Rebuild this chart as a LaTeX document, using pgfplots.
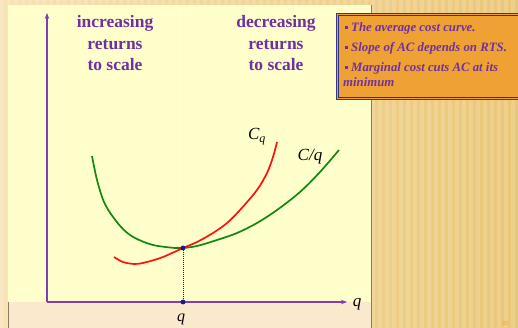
\documentclass[border=0pt]{standalone}
\usepackage{pgfplots}
\pgfplotsset{compat=1.18}
\usepackage{fontspec}
\setmainfont{Liberation Serif}
\usetikzlibrary{arrows.meta}
\definecolor{purp}{HTML}{7030A0}
\definecolor{axpurp}{HTML}{7F3FB0}
\definecolor{bgL}{HTML}{F7E2B4}
\definecolor{bgR}{HTML}{EAC776}
\definecolor{beige}{HTML}{FAE9CC}
\definecolor{panel}{HTML}{FFFFCC}
\definecolor{boxor}{HTML}{EFA233}
\definecolor{navy}{HTML}{1A1A80}
\definecolor{cgreen}{HTML}{118811}
\definecolor{cred}{HTML}{FF1010}
\definecolor{pborder}{HTML}{8A7A60}
\begin{document}
\begin{tikzpicture}[x=1pt,y=1pt]
\clip (0,0) rectangle (518,328);
\shade[left color=bgL, right color=bgR] (0,0) rectangle (518,328);
\foreach \x in {0,7,...,518} \fill[white,opacity=0.16] (\x,0) rectangle ++(3.5,328);
\fill[beige] (8,0) rectangle (371,323);
\draw[pborder,line width=0.6pt] (8,0) -- (8,323) -- (371,323) -- (371,0);
\fill[panel] (8.3,26) rectangle (370.7,322.7);
\draw[panel!85!beige,line width=0.8pt] (183,322) -- (183,90);
% titles
\begin{scope}[font=\fontsize{17.5}{21}\selectfont\bfseries, text=purp]
\node[anchor=base] at (115,300) {increasing};
\node[anchor=base] at (115,278.5) {returns};
\node[anchor=base] at (115,257) {to scale};
\node[anchor=base] at (276,300) {decreasing};
\node[anchor=base] at (276,278.5) {returns};
\node[anchor=base] at (276,257) {to scale};
\end{scope}
% box
\fill[boxor] (336,229) rectangle (530,315);
\draw[navy!70!gray,line width=0.9pt] (336,229) rectangle (530,315);
\draw[navy!80!gray,line width=0.6pt] (338,231) rectangle (530,313);
\begin{scope}[font=\fontsize{12.8}{20}\selectfont\bfseries\itshape, text=purp]
\fill[purp] (344.5,299) rectangle ++(3.4,3.4);
\node[anchor=base west,inner sep=0pt] at (351,296) {The average cost curve.};
\fill[purp] (344.5,279) rectangle ++(3.4,3.4);
\node[anchor=base west,inner sep=0pt] at (351,276) {Slope of AC depends on RTS.};
\fill[purp] (344.5,259) rectangle ++(3.4,3.4);
\node[anchor=base west,inner sep=0pt] at (351,256) {Marginal cost cuts AC at its};
\node[anchor=base west,inner sep=0pt] at (343,241) {minimum};
\end{scope}
\node[text=orange!80!yellow,font=\fontsize{6}{7}\selectfont] at (505,4) {35};
\begin{axis}[at={(47pt,26pt)}, anchor=south west, scale only axis,
  width=300pt, height=289pt, xmin=0, xmax=300, ymin=0, ymax=289,
  axis lines=left,
  axis line style={axpurp, line width=1.4pt, -{Stealth[length=6pt,width=4.5pt]}},
  xtick=\empty, ytick=\empty, clip=false]
\addplot[cgreen, line width=1.7pt, smooth, tension=0.55] coordinates {
(45,146) (50,122) (57,100) (66,85) (77,72) (88,64) (106,57) (128,54) (136,54)
(150,56) (170,62) (190,69) (210,79) (230,92) (253,110) (273,130) (292,152)};
\addplot[cred, line width=1.7pt, smooth, tension=0.55] coordinates {
(67,45) (76,40) (88,38) (100,40) (116,45) (136,54) (150,60) (166,69)
(180,79) (193,92) (210,112) (220,129) (226,145) (230,160)};
\addplot[navy, line width=1pt, densely dotted] coordinates {(136,54) (136,0)};
\addplot[navy, only marks, mark=*, mark size=2.2pt] coordinates {(136,54) (136,0)};
\node[font=\fontsize{17}{20}\selectfont\itshape, anchor=base] at (210,162) {C\textsubscript{q}};
\node[font=\fontsize{17}{20}\selectfont\itshape, anchor=base] at (263,141) {C/q};
\node[font=\fontsize{17}{20}\selectfont\itshape, anchor=base] at (310,-5) {q};
\node[font=\fontsize{16}{20}\selectfont\itshape, anchor=base] at (134,-20) {q};
\end{axis}
\end{tikzpicture}
\end{document}
